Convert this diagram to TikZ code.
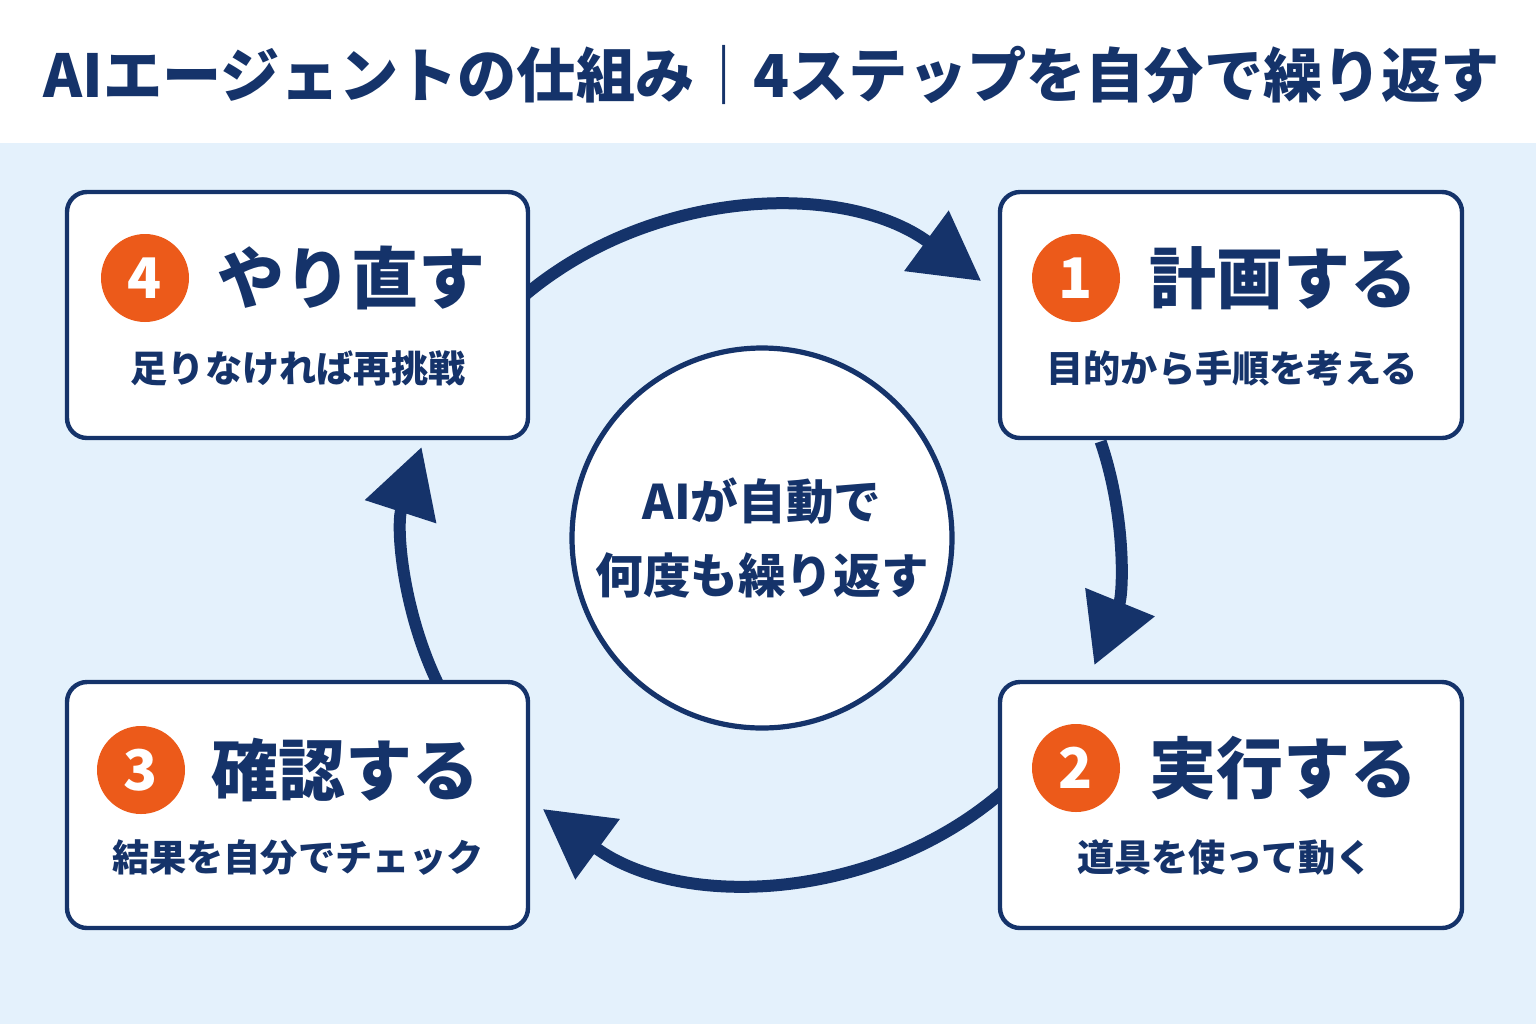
\documentclass[tikz,border=0pt]{standalone}
\usepackage{fontspec}
\setmainfont{Noto Sans CJK JP}
\usetikzlibrary{arrows.meta,calc}
\definecolor{navy}{HTML}{15336A}
\definecolor{orng}{HTML}{EC5A1A}
\definecolor{bgblue}{HTML}{E4F1FC}
\begin{document}
\begin{tikzpicture}[x=0.5pt,y=-0.5pt,
  box/.style={draw=navy,line width=2.2pt,fill=white,rounded corners=10pt},
  num/.style={circle,fill=orng,minimum size=44pt,inner sep=0pt,text=white,font=\fontsize{28}{28}\selectfont\bfseries},
  head/.style={text=navy,font=\fontsize{33.5}{33.5}\selectfont\bfseries,anchor=west},
  sub/.style={text=navy,font=\fontsize{18.6}{18.6}\selectfont\bfseries},
  arr/.style={draw=navy,line width=6pt,-{Triangle[length=34pt,width=36pt]}}]
\useasboundingbox (0,0) rectangle (1536,1024);
\fill[white] (0,0) rectangle (1536,143);
\fill[bgblue] (0,143) rectangle (1536,1024);
\node[text=navy,font=\fontsize{29.6}{29.6}\selectfont\bfseries] (title) at (772,75) {AIエージェントの仕組み｜4ステップを自分で繰り返す};
% arcs
\coordinate (c) at (762,545);
\draw[arr] ($(c)+(-133:356 and 335)$) arc[start angle=-133,end angle=-52,x radius=356,y radius=335];
\draw[arr] ($(c)+(-18:356 and 335)$) arc[start angle=-18,end angle=21,x radius=356,y radius=335];
\draw[arr] ($(c)+(47:356 and 335)$) arc[start angle=47,end angle=128,x radius=356,y radius=335];
\draw[arr] ($(c)+(155:356 and 335)$) arc[start angle=155,end angle=197,x radius=356,y radius=335];
% boxes
\draw[box] (67,192) rectangle (528,438);
\draw[box] (1000,192) rectangle (1462,438);
\draw[box] (67,682) rectangle (528,928);
\draw[box] (1000,682) rectangle (1462,928);
\node[num] (n4) at (145,278) {4};
\node[head] (h4) at (210,278) {やり直す};
\node[sub] (s4) at (298,368) {足りなければ再挑戦};
\node[num] (n1) at (1076,278) {1};
\node[head] (h1) at (1142,278) {計画する};
\node[sub] (s1) at (1232,368) {目的から手順を考える};
\node[num] (n3) at (141,770) {3};
\node[head] (h3) at (204,770) {確認する};
\node[sub] (s3) at (298,857) {結果を自分でチェック};
\node[num] (n2) at (1076,768) {2};
\node[head] (h2) at (1142,768) {実行する};
\node[sub] (s2) at (1225,857) {道具を使って動く};
\node[circle,draw=navy,line width=2.6pt,fill=white,minimum size=190pt,text=navy,align=center,font=\fontsize{23.8}{37}\selectfont\bfseries] (mid) at (762,538) {AIが自動で\\何度も繰り返す};
\end{tikzpicture}
\end{document}
